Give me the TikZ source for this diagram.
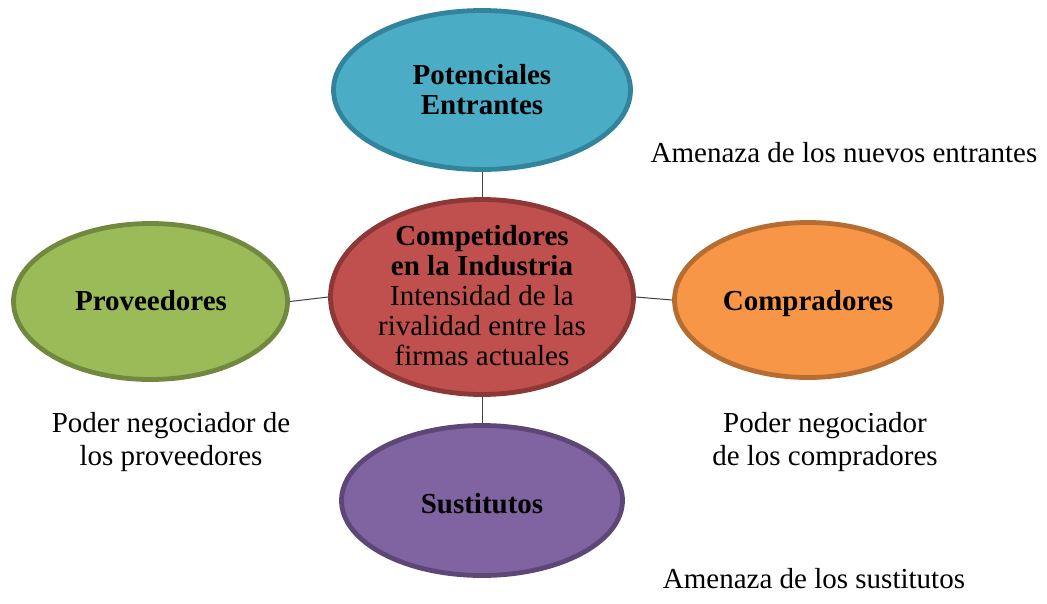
\documentclass[tikz,border=0pt]{standalone}
\usepackage{fontspec}
\setmainfont{Liberation Serif}
\usetikzlibrary{shapes.geometric}
\definecolor{tealF}{HTML}{4BACC6}\definecolor{tealB}{HTML}{31849B}
\definecolor{redF}{HTML}{C0504D}\definecolor{redB}{HTML}{8C3836}
\definecolor{greenF}{HTML}{9BBB59}\definecolor{greenB}{HTML}{71893F}
\definecolor{orangeF}{HTML}{F79646}\definecolor{orangeB}{HTML}{B66D31}
\definecolor{purpleF}{HTML}{8064A2}\definecolor{purpleB}{HTML}{5C4776}
\tikzset{
  ell/.style={ellipse, inner sep=0pt, line width=4.8pt},
  boldtxt/.style={font=\fontsize{29}{30}\selectfont\bfseries, align=center, inner sep=0pt},
  normtxt/.style={font=\fontsize{29}{33}\selectfont, align=center, inner sep=0pt},
  conn/.style={line width=1pt, draw=black!75}
}
\begin{document}
\begin{tikzpicture}[x=1pt,y=-1pt]
\useasboundingbox (0,0) rectangle (1047,603);
\node[ell, fill=tealF, draw=tealB, minimum width=297pt, minimum height=159pt] (pot) at (482,90) {};
\node[ell, fill=redF, draw=redB, minimum width=303pt, minimum height=195pt] (comp) at (482,297) {};
\node[ell, fill=greenF, draw=greenB, minimum width=274pt, minimum height=156pt] (prov) at (150.5,301.5) {};
\node[ell, fill=orangeF, draw=orangeB, minimum width=267pt, minimum height=155pt] (compr) at (808,300) {};
\node[ell, fill=purpleF, draw=purpleB, minimum width=281pt, minimum height=150pt] (sust) at (482,500.5) {};

\draw[conn] (pot.south) -- (comp.north);
\draw[conn] (comp.south) -- (sust.north);
\draw[conn] (prov.east) -- (comp.west);
\draw[conn] (comp.east) -- (compr.west);

\node[boldtxt, anchor=north] (potT) at (482,64) {Potenciales\\Entrantes};
\node[boldtxt, anchor=north] (compT) at (482,225) {Competidores\\en la Industria\\\mdseries Intensidad de la\\\mdseries rivalidad entre las\\\mdseries firmas actuales};
\node[boldtxt, anchor=base] (provT) at (151,310) {Proveedores};
\node[boldtxt, anchor=base] (comprT) at (808,310) {Compradores};
\node[boldtxt, anchor=base] (sustT) at (482,513) {Sustitutos};

\node[normtxt, anchor=base] (amen1) at (844,162) {Amenaza de los nuevos entrantes};
\node[normtxt, anchor=north] (poder1) at (171,412) {Poder negociador de\\los proveedores};
\node[normtxt, anchor=north] (poder2) at (825,412) {Poder negociador\\de los compradores};
\node[normtxt, anchor=base] (amen2) at (814,588) {Amenaza de los sustitutos};
\end{tikzpicture}
\end{document}
